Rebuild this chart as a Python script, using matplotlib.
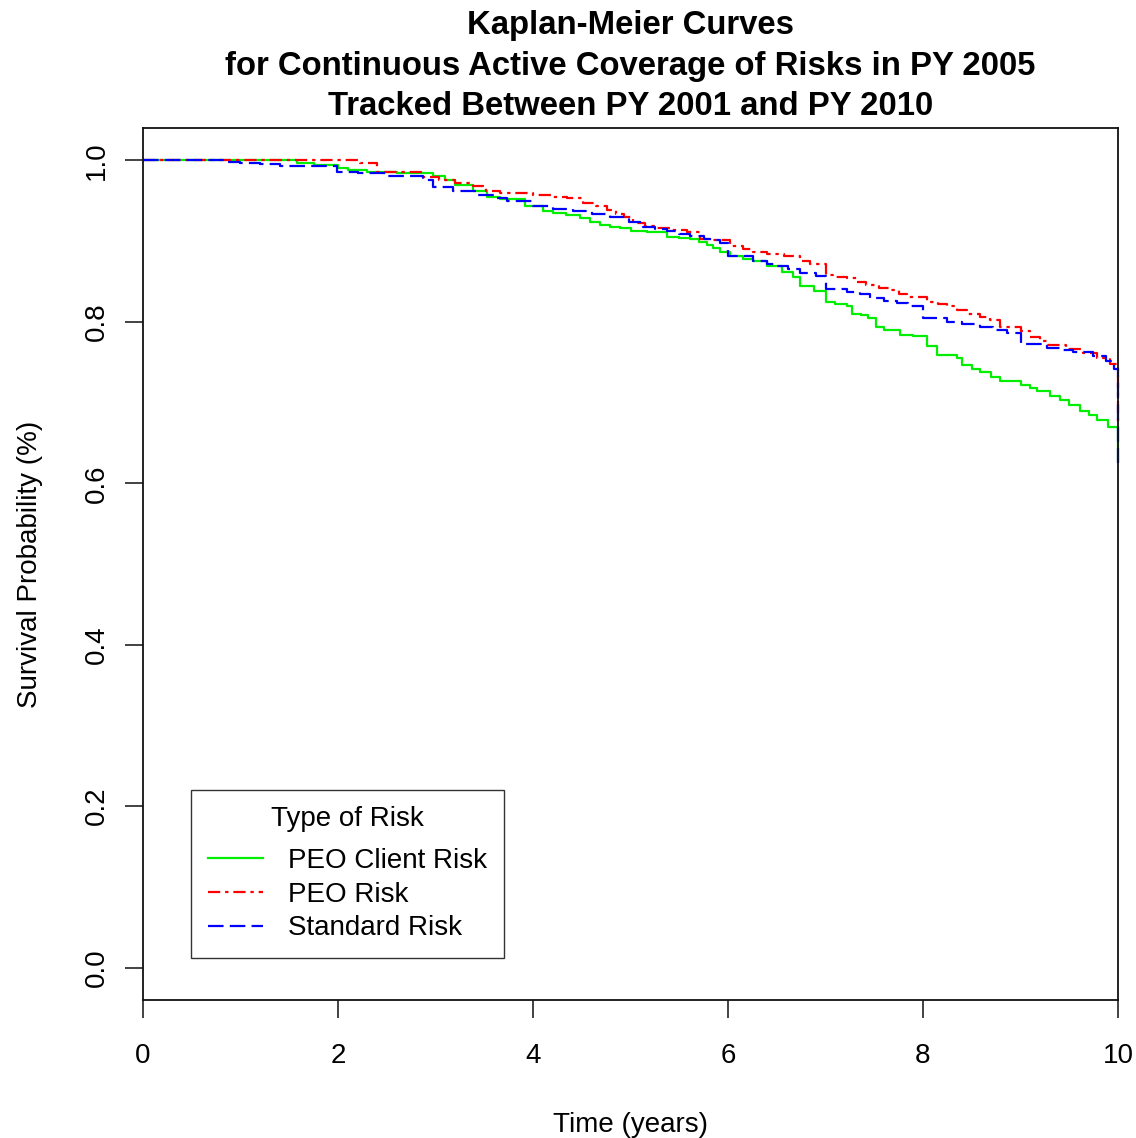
import matplotlib
matplotlib.use("Agg")
import matplotlib.pyplot as plt

plt.rcParams['font.family'] = ['Liberation Sans', 'DejaVu Sans']

# Kaplan-Meier estimates (time in years, survival)
client_t = [0, 1.58, 1.75, 2.0, 2.1, 2.3, 2.6, 2.97, 3.1, 3.2, 3.38, 3.53, 3.66, 3.92,
            4.1, 4.21, 4.34, 4.48, 4.58, 4.69, 4.79, 4.89, 5.0, 5.17, 5.37, 5.5, 5.61,
            5.7, 5.78, 5.85, 5.92, 6.02, 6.15, 6.26, 6.4, 6.55, 6.67, 6.74, 6.88, 7.0,
            7.1, 7.22, 7.27, 7.36, 7.44, 7.52, 7.6, 7.76, 7.9, 8.04, 8.14, 8.35, 8.4,
            8.5, 8.58, 8.7, 8.79, 9.0, 9.1, 9.17, 9.3, 9.41, 9.5, 9.61, 9.7, 9.78,
            9.9, 10.0]
client_s = [1.0, 0.997, 0.994, 0.99, 0.988, 0.986, 0.984, 0.981, 0.975, 0.969, 0.962,
            0.955, 0.952, 0.943, 0.937, 0.935, 0.932, 0.928, 0.924, 0.92, 0.918, 0.916,
            0.913, 0.911, 0.905, 0.904, 0.902, 0.899, 0.895, 0.891, 0.886, 0.881, 0.878,
            0.875, 0.869, 0.862, 0.856, 0.844, 0.838, 0.824, 0.822, 0.819, 0.81, 0.808,
            0.805, 0.794, 0.79, 0.784, 0.782, 0.77, 0.759, 0.755, 0.747, 0.742, 0.738,
            0.732, 0.727, 0.722, 0.718, 0.714, 0.708, 0.703, 0.697, 0.69, 0.684, 0.678,
            0.67, 0.628]

peo_t = [0, 2.23, 2.4, 2.87, 3.04, 3.2, 3.38, 3.52, 3.66, 4.0, 4.2, 4.35, 4.51, 4.65,
         4.76, 4.85, 4.93, 5.03, 5.15, 5.27, 5.4, 5.58, 5.71, 5.85, 6.02, 6.15, 6.26,
         6.4, 6.57, 6.74, 6.84, 7.0, 7.1, 7.22, 7.32, 7.42, 7.55, 7.66, 7.75, 7.84,
         8.04, 8.15, 8.25, 8.35, 8.45, 8.58, 8.69, 8.79, 9.0, 9.1, 9.2, 9.27, 9.47,
         9.64, 9.78, 9.92, 10.0]
peo_s = [1.0, 0.997, 0.985, 0.979, 0.975, 0.972, 0.968, 0.962, 0.96, 0.957, 0.955,
         0.953, 0.947, 0.943, 0.938, 0.934, 0.93, 0.922, 0.919, 0.916, 0.914, 0.911,
         0.903, 0.901, 0.894, 0.89, 0.887, 0.884, 0.881, 0.875, 0.872, 0.858, 0.856,
         0.854, 0.849, 0.845, 0.842, 0.839, 0.835, 0.831, 0.825, 0.822, 0.819, 0.815,
         0.81, 0.806, 0.802, 0.794, 0.788, 0.781, 0.776, 0.771, 0.766, 0.761, 0.755,
         0.748, 0.674]

std_t = [0, 0.82, 0.99, 1.2, 1.41, 1.99, 2.2, 2.5, 2.71, 2.87, 2.97, 3.18, 3.42, 3.6,
         3.73, 3.83, 4.0, 4.2, 4.41, 4.6, 4.79, 4.98, 5.13, 5.25, 5.37, 5.5, 5.61,
         5.75, 5.85, 5.92, 6.0, 6.26, 6.4, 6.5, 6.62, 6.74, 6.9, 7.0, 7.22, 7.35,
         7.46, 7.6, 7.73, 7.85, 8.0, 8.25, 8.4, 8.58, 8.72, 8.86, 9.0, 9.27, 9.4,
         9.54, 9.74, 9.88, 9.96, 10.0]
std_s = [1.0, 0.998, 0.997, 0.996, 0.993, 0.986, 0.984, 0.981, 0.98, 0.976, 0.967,
         0.962, 0.957, 0.953, 0.95, 0.949, 0.943, 0.94, 0.937, 0.934, 0.93, 0.924,
         0.918, 0.915, 0.912, 0.909, 0.906, 0.903, 0.901, 0.898, 0.881, 0.875, 0.872,
         0.869, 0.865, 0.86, 0.857, 0.841, 0.837, 0.834, 0.83, 0.826, 0.823, 0.82,
         0.805, 0.8, 0.797, 0.793, 0.79, 0.786, 0.772, 0.768, 0.765, 0.762, 0.757,
         0.751, 0.742, 0.625]

labels = ['PEO Client Risk', 'PEO Risk', 'Standard Risk']
x_ticks = [0, 2, 4, 6, 8, 10]
y_ticks = [0.0, 0.2, 0.4, 0.6, 0.8, 1.0]

fig = plt.figure(figsize=(11.36, 11.38), dpi=100)
ax = fig.add_axes([143 / 1136, 1 - 1000 / 1138, 975 / 1136, 872 / 1138])

ax.plot(client_t, client_s, drawstyle='steps-post', color='#00ee00', lw=1.6,
        label=labels[0], clip_on=False)
ax.plot(peo_t, peo_s, drawstyle='steps-post', color='#ff0000', lw=1.6,
        dashes=(5.5, 2.2, 1.5, 2.2), label=labels[1], clip_on=False)
ax.plot(std_t, std_s, drawstyle='steps-post', color='#0000ff', lw=1.6,
        dashes=(7.0, 2.8), label=labels[2], clip_on=False)

ax.set_xlim(0, 10)
ax.set_ylim(-0.04, 1.04)
ax.set_xticks(x_ticks)
ax.set_yticks(y_ticks)
ax.set_xticklabels([str(v) for v in x_ticks])
ax.set_yticklabels(['%.1f' % v for v in y_ticks], rotation=90, va='center')
ax.tick_params(axis='both', direction='out', length=13, width=1.2, labelsize=20,
               color='#222222')
ax.tick_params(axis='x', pad=18)
ax.tick_params(axis='y', pad=11)
for sp in ax.spines.values():
    sp.set_linewidth(1.3)
    sp.set_color('#111111')

ax.set_xlabel('Time (years)', fontsize=20)
ax.set_ylabel('Survival Probability (%)', fontsize=20)
ax.xaxis.set_label_coords(0.5, -0.128)
ax.yaxis.set_label_coords(-0.103, 0.5)

fig.text(630.5 / 1136, 1 - 66 / 1138,
         'Kaplan-Meier Curves\nfor Continuous Active Coverage of Risks in PY 2005\n'
         'Tracked Between PY 2001 and PY 2010',
         ha='center', va='center', fontsize=23.7, fontweight='bold', linespacing=1.4)

leg = ax.legend(title='Type of Risk', loc='lower left',
                bbox_to_anchor=(48 / 975, 42 / 872), fontsize=20, title_fontsize=20,
                frameon=True, fancybox=False, edgecolor='black', borderpad=0.6,
                handlelength=2.0, handletextpad=0.9, labelspacing=0.28,
                borderaxespad=0)
leg._legend_box.sep = 11
leg.get_frame().set_linewidth(1.0)

fig.savefig('out.png', dpi=100, facecolor='white')
